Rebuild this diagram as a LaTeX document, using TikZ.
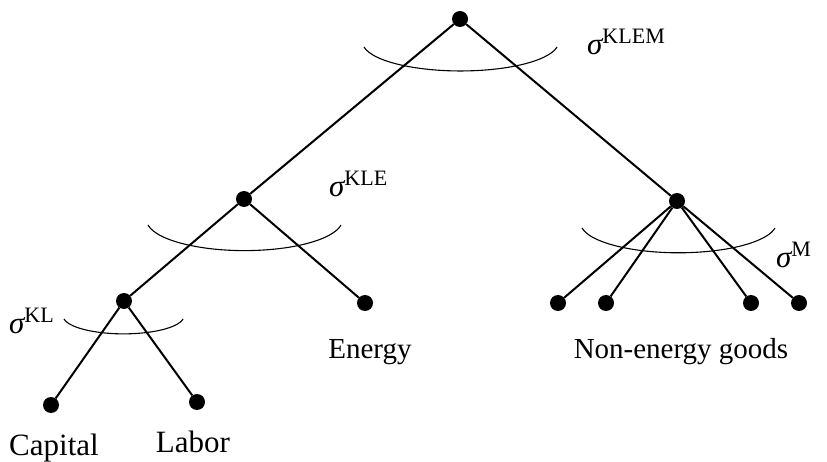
\documentclass[tikz,border=0pt]{standalone}
\usepackage{fontspec}
\setmainfont{Liberation Serif}
\newcommand\elsig[1]{{\fontsize{31}{34}\selectfont\itshape σ}\raisebox{11pt}{\fontsize{22}{26}\selectfont #1}}
\begin{document}
\begin{tikzpicture}[x=1pt,y=-1pt,
  dot/.style={circle,fill=black,inner sep=0pt,minimum size=16pt},
  edge/.style={line width=2pt},
  sarc/.style={line width=1.1pt},
  lbl/.style={font=\fontsize{29}{32}\selectfont, inner sep=0pt, anchor=base},
  biglbl/.style={font=\fontsize{31}{34}\selectfont, inner sep=0pt, anchor=base},
  sig/.style={inner sep=0pt, anchor=base west}]
\useasboundingbox (0,0) rectangle (827,462);
% nodes
\node[dot] (top) at (460,19) {};
\node[dot] (kle) at (244,199) {};
\node[dot] (m) at (677,201) {};
\node[dot] (kl) at (124,301) {};
\node[dot] (en) at (365,303) {};
\node[dot] (n1) at (558,303) {};
\node[dot] (n2) at (606,303) {};
\node[dot] (n3) at (751,303) {};
\node[dot] (n4) at (799,303) {};
\node[dot] (cap) at (51,405) {};
\node[dot] (lab) at (197,402) {};
% edges
\draw[edge] (top) -- (kle);
\draw[edge] (top) -- (m);
\draw[edge] (kle) -- (kl);
\draw[edge] (kle) -- (en);
\draw[edge] (kl) -- (cap);
\draw[edge] (kl) -- (lab);
\draw[edge] (m) -- (n1);
\draw[edge] (m) -- (n2);
\draw[edge] (m) -- (n3);
\draw[edge] (m) -- (n4);
% elasticity arcs
\draw[sarc] (364,47) arc[start angle=170,end angle=10,x radius=98,y radius=29];
\draw[sarc] (148,225) arc[start angle=170,end angle=10,x radius=98,y radius=31];
\draw[sarc] (582,228) arc[start angle=170,end angle=10,x radius=98,y radius=30];
\draw[sarc] (64,319) arc[start angle=170,end angle=10,x radius=60.5,y radius=18];
% labels
\node[sig] (sKLEM) at (587,55) {\elsig{KLEM}};
\node[sig] (sKLE) at (329,197) {\elsig{KLE}};
\node[sig] (sM) at (776,268) {\elsig{M}};
\node[sig] (sKL) at (9,333) {\elsig{KL}};
\node[lbl] (tEn) at (370,358) {Energy};
\node[lbl] (tNE) at (681,358) {Non-energy goods};
\node[biglbl] (tCap) at (54,455) {Capital};
\node[biglbl] (tLab) at (193,452) {Labor};
\end{tikzpicture}
\end{document}
